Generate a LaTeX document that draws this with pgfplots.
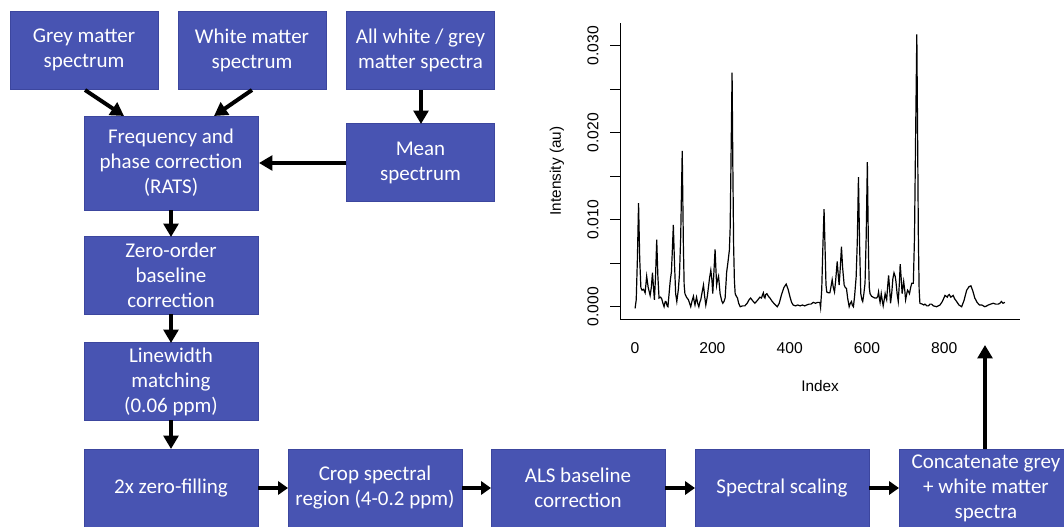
\documentclass[border=0pt]{standalone}
\usepackage{fontspec}
\setmainfont{Carlito}
\newfontfamily\plotfont{Liberation Sans}
\usepackage{pgfplots}
\pgfplotsset{compat=1.18}
\usetikzlibrary{arrows.meta}
\definecolor{boxblue}{RGB}{72,84,178}
\definecolor{boxedge}{RGB}{60,70,158}

\begin{document}
\begin{tikzpicture}
\useasboundingbox (0,0) rectangle (798bp,-395.25bp);
% flowchart, in pixel units of the reference
\begin{scope}[x=0.75bp, y=-0.75bp,
  box/.style={fill=boxblue, draw=boxedge, line width=0.5bp, text=white, align=center,
    inner sep=0pt, outer sep=0pt, font=\fontsize{15.75bp}{18.75bp}\selectfont},
  sb/.style={box, minimum width=111bp, minimum height=58.5bp},
  lb/.style={box, minimum width=130.5bp, minimum height=58.5bp},
  arr/.style={line width=3bp, -{Triangle[length=10bp,width=11bp]}},
  sarr/.style={line width=3bp, -{Triangle[length=7.5bp,width=10bp]}}]
  \node[sb] at (84,50) {Grey matter\\spectrum};
  \node[sb] at (252,50) {White matter\\spectrum};
  \node[sb] at (420.5,50) {All white / grey\\matter spectra};
  \node[box, minimum width=130.5bp, minimum height=70.5bp] at (171,163) {Frequency and\\phase correction\\(RATS)};
  \node[sb] at (420.5,162.5) {Mean\\spectrum};
  \node[lb] at (171,275.5) {Zero-order\\baseline\\correction};
  \node[lb] at (171,381.5) {Linewidth\\matching\\(0.06 ppm)};
  \node[lb] at (171,488) {2x zero-filling};
  \node[lb] at (375,488) {Crop spectral\\region (4-0.2 ppm)};
  \node[lb] at (578,488) {ALS baseline\\correction};
  \node[lb] at (782,488) {Spectral scaling};
  \node[lb] at (986,488) {Concatenate grey\\+ white matter\\spectra};
  \draw[arr] (85,90) -- (124,116);
  \draw[arr] (252,90) -- (214,116);
  \draw[arr] (421,90) -- (421,124);
  \draw[arr] (346,163) -- (259,163);
  \draw[arr] (171,210) -- (171,237);
  \draw[arr] (171,314) -- (171,343);
  \draw[arr] (171,420) -- (171,449);
  \draw[sarr] (258,488) -- (288,488);
  \draw[sarr] (462,488) -- (491,488);
  \draw[sarr] (665,488) -- (695,488);
  \draw[sarr] (869,488) -- (899,488);
  \draw[arr] (985,449) -- (985,345);
\end{scope}

\begin{axis}[
  at={(465bp,-239.25bp)}, anchor=south west,
  scale only axis, width=300bp, height=222bp,
  xmin=-39, xmax=996, ymin=-0.00141, ymax=0.0326,
  axis x line*=bottom, axis y line*=left,
  axis line style={-, line width=0.75bp},
  scaled ticks=false, tick align=outside, major tick length=7.5bp,
  xtick={0,200,400,600,800}, xticklabels={0,200,400,600,800},
  ytick={0,0.005,0.01,0.015,0.02,0.025,0.03},
  yticklabels={0.000,,0.010,,0.020,,0.030},
  xtick style={draw=none},
  ytick style={line width=0.75bp, black},
  tick label style={font=\plotfont\fontsize{11.75bp}{13bp}\selectfont},
  xticklabel style={yshift=-6.75bp},
  yticklabel style={xshift=-5bp, rotate=90, anchor=south},
  label style={font=\plotfont\fontsize{11.5bp}{13bp}\selectfont},
  xlabel={Index}, ylabel={Intensity (au)},
  xlabel style={at={(axis description cs:0.5,-0.2264)}, anchor=center},
  ylabel style={at={(axis description cs:-0.1575,0.5)}, anchor=center},
]
\addplot[black, line width=0.9bp] coordinates {
(0,-0.0002)(3,0.0008)(6,0.0055)(9,0.0119)(12,0.0055)(15,0.0022)(18,0.0019)(22,0.0020)
(26,0.0016)(30,0.0035)(34,0.0022)(39,0.0013)(42,0.0022)(45,0.0039)(48,0.0020)(50,0.0008)
(53,0.0035)(56,0.0077)(59,0.0035)(62,0.0010)(66,0.0011)(69,0.0009)(72,0.0004)(75,0.0000)
(78,0.0006)(80,0.0006)(83,0.0001)(85,0.0000)(88,0.0015)(91,0.0030)(94,0.0040)(96,0.0060)
(99,0.0094)(102,0.0050)(105,0.0015)(108,0.0006)(112,0.0020)(115,0.0038)(118,0.0080)(122,0.0179)
(125,0.0070)(127,0.0025)(129,0.0015)(133,0.0011)(138,0.0008)(141,0.0004)(144,0.0000)(147,0.0006)
(151,0.0012)(153,0.0006)(155,0.0002)(157,0.0007)(159,0.0011)(162,0.0004)(165,0.0000)(168,0.0006)
(170,0.0008)(174,0.0018)(177,0.0025)(180,0.0012)(183,0.0002)(187,0.0012)(190,0.0023)(193,0.0034)
(196,0.0042)(199,0.0030)(201,0.0015)(204,0.0040)(207,0.0066)(209,0.0045)(211,0.0025)(213,0.0030)
(216,0.0035)(218,0.0025)(220,0.0015)(224,0.0007)(227,0.0004)(230,0.0006)(233,0.0010)(235,0.0025)
(237,0.0040)(240,0.0050)(244,0.0065)(246,0.0090)(248,0.0160)(251,0.0269)(253,0.0160)(255,0.0070)
(257,0.0030)(259,0.0015)(262,0.0012)(265,0.0010)(268,0.0004)(272,0.0000)(278,0.0001)(284,0.0001)
(290,0.0004)(295,0.0008)(299,0.0010)(304,0.0007)(310,0.0004)(316,0.0007)(323,0.0011)(327,0.0010)
(330,0.0014)(332,0.0016)(334,0.0011)(336,0.0010)(338,0.0014)(341,0.0015)(345,0.0012)(349,0.0010)
(355,0.0006)(361,0.0003)(368,0.0000)(373,0.0004)(379,0.0014)(385,0.0022)(391,0.0026)(396,0.0020)
(401,0.0011)(405,0.0005)(409,0.0002)(415,0.0001)(421,0.0002)(427,0.0001)(433,0.0002)(439,0.0001)
(444,0.0002)(450,0.0003)(455,0.0003)(461,0.0005)(467,0.0004)(472,0.0005)(478,0.0005)(480,-0.0001)
(483,0.0020)(486,0.0070)(489,0.0112)(492,0.0060)(494,0.0025)(496,0.0017)(500,0.0016)(504,0.0016)
(507,0.0023)(510,0.0031)(513,0.0022)(516,0.0017)(519,0.0030)(523,0.0052)(526,0.0035)(528,0.0025)
(531,0.0045)(534,0.0069)(537,0.0045)(541,0.0025)(544,0.0022)(547,0.0021)(550,0.0010)(554,0.0000)
(557,0.0004)(560,0.0006)(562,0.0002)(565,0.0000)(568,0.0012)(572,0.0034)(575,0.0075)(578,0.0149)
(581,0.0070)(584,0.0015)(587,0.0008)(589,0.0006)(592,0.0015)(595,0.0027)(598,0.0080)(601,0.0166)
(604,0.0060)(606,0.0022)(608,0.0015)(612,0.0012)(616,0.0011)(620,0.0010)(625,0.0010)(628,0.0012)
(630,0.0017)(632,0.0010)(634,0.0005)(637,0.0015)(640,0.0006)(642,0.0001)(645,0.0009)(647,0.0015)
(649,0.0011)(651,0.0008)(653,0.0020)(656,0.0036)(659,0.0018)(661,0.0004)(664,0.0015)(667,0.0032)
(670,0.0039)(673,0.0035)(675,0.0029)(678,0.0015)(681,0.0006)(684,0.0028)(686,0.0049)(689,0.0030)
(691,0.0015)(693,0.0022)(695,0.0029)(698,0.0018)(700,0.0008)(703,0.0015)(705,0.0019)(708,0.0017)
(710,0.0015)(713,0.0022)(716,0.0027)(720,0.0027)(723,0.0080)(726,0.0200)(729,0.0313)(731,0.0200)
(733,0.0080)(735,0.0020)(737,0.0004)(743,0.0003)(747,0.0002)(750,0.0003)(755,0.0001)(759,0.0001)
(763,0.0003)(767,0.0003)(772,0.0001)(780,0.0000)(789,0.0002)(795,0.0006)(802,0.0013)(805,0.0012)
(808,0.0011)(810,0.0013)(813,0.0014)(817,0.0011)(820,0.0012)(823,0.0013)(827,0.0009)(832,0.0006)
(838,0.0002)(845,0.0000)(851,0.0007)(858,0.0019)(864,0.0023)(869,0.0024)(874,0.0018)(879,0.0010)
(885,0.0005)(891,0.0002)(897,0.0002)(905,0.0000)(910,0.0001)(914,0.0002)(920,0.0003)(927,0.0004)
(933,0.0003)(940,0.0003)(944,0.0004)(948,0.0006)(952,0.0004)(957,0.0005)
};
\end{axis}
\end{tikzpicture}
\end{document}
